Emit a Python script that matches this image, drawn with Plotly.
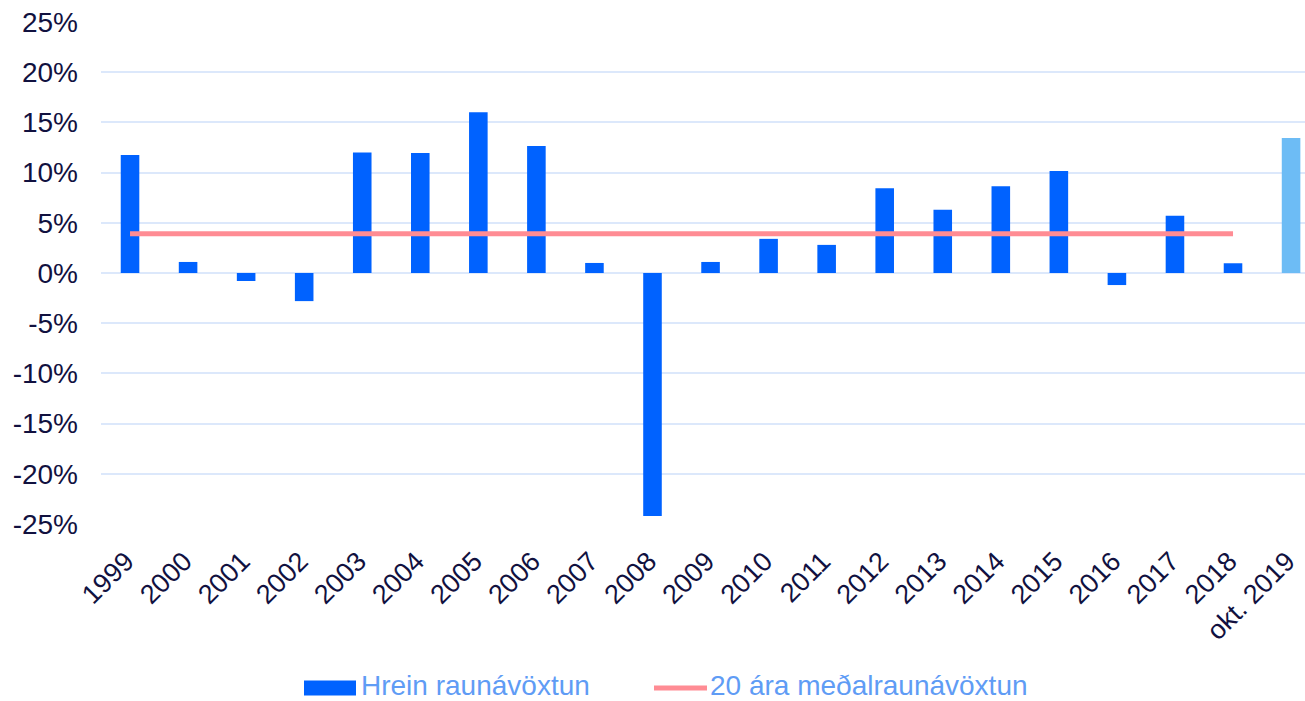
import plotly.graph_objects as go

categories = ["1999", "2000", "2001", "2002", "2003", "2004", "2005", "2006", "2007",
              "2008", "2009", "2010", "2011", "2012", "2013", "2014", "2015", "2016",
              "2017", "2018", "okt. 2019"]
real_return = [11.75, 1.1, -0.8, -2.8, 12.0, 11.95, 16.0, 12.65, 1.0,
               -24.2, 1.1, 3.4, 2.8, 8.45, 6.3, 8.65, 10.15, -1.2,
               5.7, 0.97, 13.45]
avg_categories = categories[:20]
avg_value = 3.9
avg_series = [avg_value] * len(avg_categories)
y_ticks = [-25, -20, -15, -10, -5, 0, 5, 10, 15, 20, 25]

bar_name = "Hrein raunávöxtun"
line_name = "20 ára meðalraunávöxtun"

BLUE = "#0062ff"
LIGHT = "#6dbcf5"
PINK = "#ff8c94"
GRID = "#dce8fb"
TICK = "#11113f"
LEG = "#5f9cf5"
FONT = "Liberation Sans, Arial, sans-serif"

colors = [BLUE] * (len(categories) - 1) + [LIGHT]

fig = go.Figure()
fig.add_trace(go.Bar(x=categories, y=real_return, marker=dict(color=colors, line=dict(width=0)),
                     width=0.32, name=bar_name, showlegend=False))
fig.add_trace(go.Scatter(x=avg_categories, y=avg_series, mode="lines",
                         line=dict(color=PINK, width=5), name=line_name, showlegend=False))

# custom legend (paper coordinates, plot area spans 101..1305 px horizontally, 22..524 vertically)
PW, PH = 1204, 502
leg_y = (524 - 688) / PH
txt_y = (524 - 685) / PH
fig.add_shape(type="rect", xref="paper", yref="paper",
              x0=(304 - 101) / PW, x1=(356 - 101) / PW,
              y0=leg_y - 7.5 / PH, y1=leg_y + 7.5 / PH,
              fillcolor=BLUE, line=dict(width=0))
fig.add_shape(type="line", xref="paper", yref="paper",
              x0=(654 - 101) / PW, x1=(707 - 101) / PW,
              y0=leg_y, y1=leg_y, line=dict(color=PINK, width=5))
fig.add_annotation(text=bar_name, xref="paper", yref="paper",
                   x=(360 - 101) / PW, y=txt_y, xanchor="left", yanchor="middle",
                   showarrow=False, borderpad=0, font=dict(family=FONT, size=28, color=LEG))
fig.add_annotation(text=line_name, xref="paper", yref="paper",
                   x=(709 - 101) / PW, y=txt_y, xanchor="left", yanchor="middle",
                   showarrow=False, borderpad=0, font=dict(family=FONT, size=28, color=LEG))

fig.update_layout(
    width=1305, height=701,
    margin=dict(l=101, r=0, t=22, b=177),
    paper_bgcolor="white", plot_bgcolor="white",
    font=dict(family=FONT, color=TICK),
)
fig.update_xaxes(
    type="category", range=[-0.5, 20.24],
    tickangle=-45, tickfont=dict(size=27, color=TICK),
    showgrid=False, zeroline=False, showline=False, ticks="",
    ticklabelstandoff=15, ticklabelshift=-4,
)
fig.update_yaxes(
    range=[-25, 25], tickvals=y_ticks, ticktext=[f"{v}%" for v in y_ticks],
    tickfont=dict(size=28, color=TICK),
    showgrid=True, gridcolor=GRID, gridwidth=2,
    zeroline=True, zerolinecolor=GRID, zerolinewidth=2,
    showline=False, ticks="", ticklabelstandoff=22,
)

fig.write_html("out.html", config={"displayModeBar": False},
               post_script="document.body.style.margin='0';document.body.style.overflow='hidden';")
